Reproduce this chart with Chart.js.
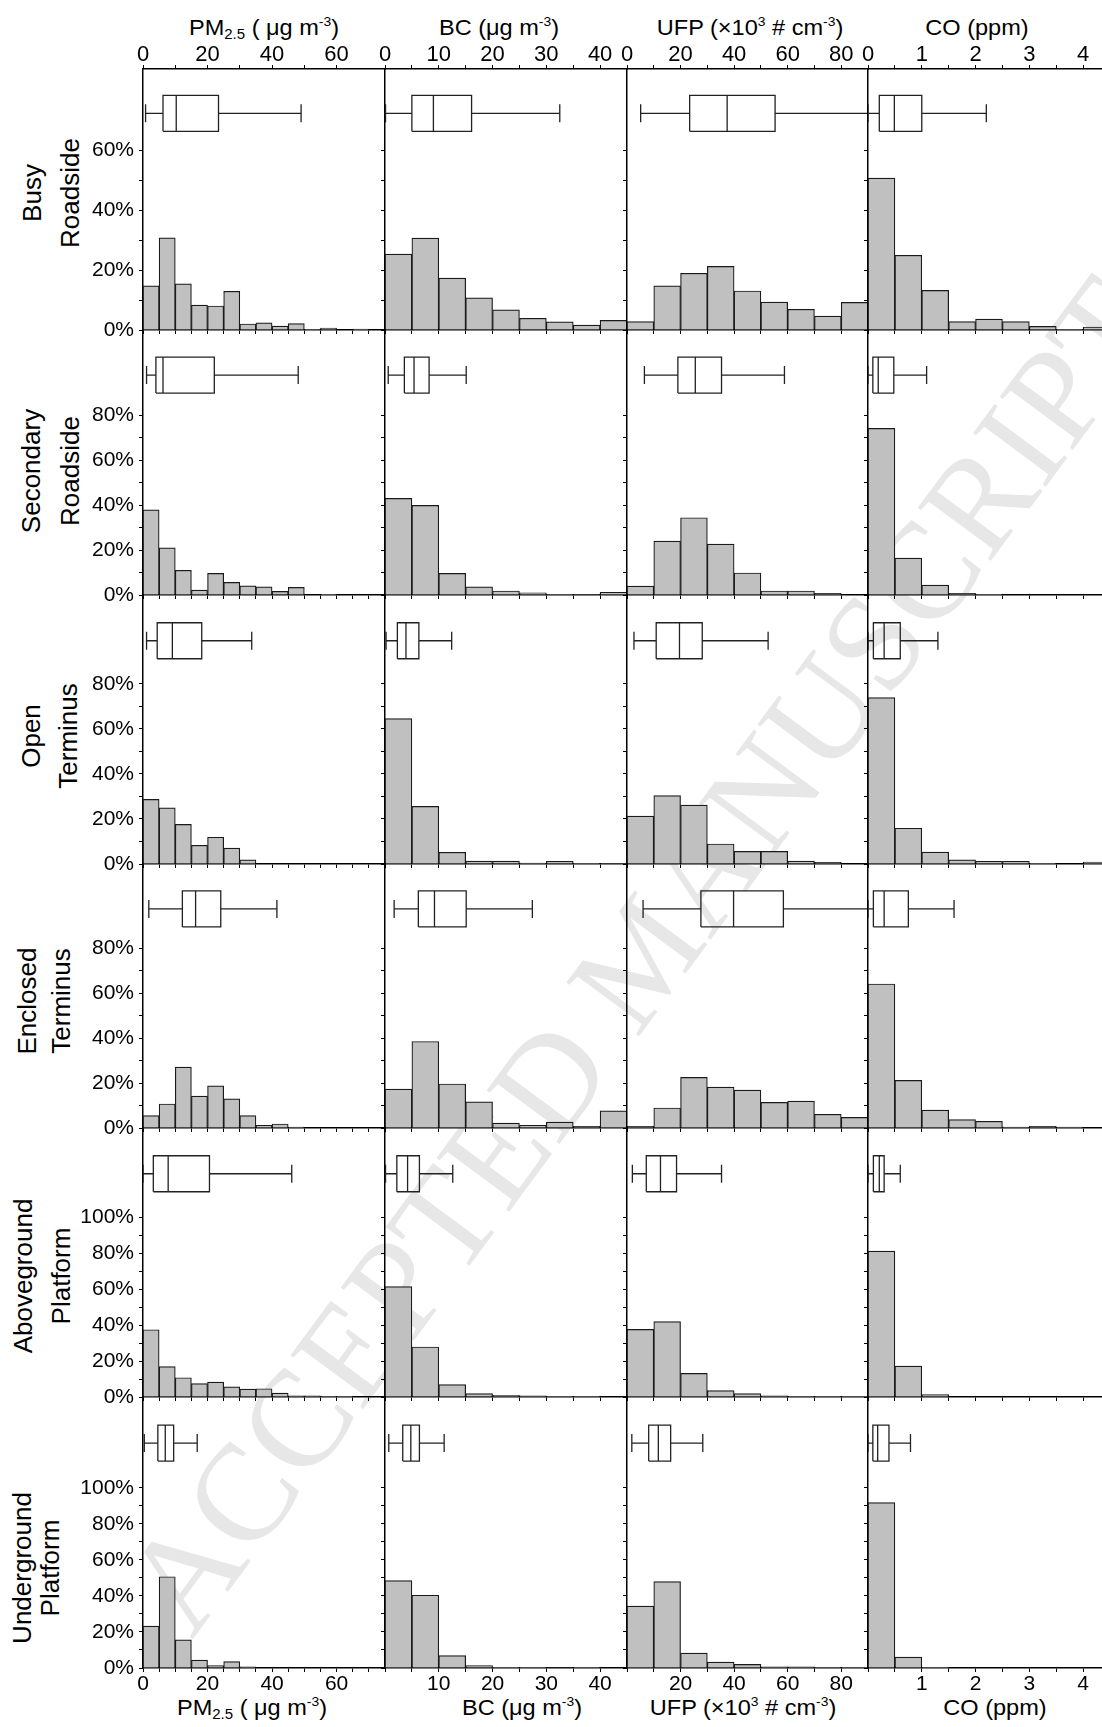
<!DOCTYPE html>
<html>
<head>
<meta charset="utf-8">
<script src="https://cdn.jsdelivr.net/npm/chart.js@4.4.1/dist/chart.umd.min.js"></script>
<style>
  html, body { margin: 0; padding: 0; background: #fff; overflow: hidden; }
  #figure { position: relative; width: 1102px; height: 1727px; overflow: hidden;
            font-family: "Liberation Sans", Arial, sans-serif; color: #000; }
  #figure canvas { position: absolute; }
  .title { position: absolute; font-size: 22px; line-height: 22px; white-space: nowrap; }
  .title sub { font-size: 14px; line-height: 0; vertical-align: -4px; }
  .title sup { font-size: 13px; line-height: 0; vertical-align: 9px; }
  .site { position: absolute; left: 0; top: 0; font-size: 26px; line-height: 26px;
          white-space: nowrap; transform-origin: 0 0; }
  .watermark { position: absolute; left: 0; top: 0; font-family: "Liberation Serif", serif;
               font-size: 138px; line-height: 138px; color: #e7e7e7; white-space: nowrap;
               transform-origin: 0 0; }
</style>
</head>
<body>
<div id="figure">
  <div class="watermark" id="wm">ACCEPTED MANUSCRIPT</div>
</div>
<script>
// sites (rows) and pollutants (columns)
const siteLines = [["Busy", "Roadside"], ["Secondary", "Roadside"], ["Open", "Terminus"],
                   ["Enclosed", "Terminus"], ["Aboveground", "Platform"], ["Underground", "Platform"]];
const topTitles = ["PM<sub>2.5</sub> ( μg m<sup>-3</sup>)", "BC (μg m<sup>-3</sup>)",
                   "UFP (×10<sup>3</sup> # cm<sup>-3</sup>)", "CO (ppm)"];

// histogram bins and axes per pollutant
const binWidth = [5, 5, 10, 0.5];
const axisMax = [75, 45, 90, 4.5];
const bottomStep = [5, 5, 10, 0.5];
const topStep = [10, 5, 10, 0.5];
const labelStep = [20, 10, 20, 1];

// y axes per site (percent)
const pctMax = [87, 118, 119.5, 117.5, 149.5, 150.5];
const pctLabelMax = [60, 80, 80, 80, 100, 100];

// frequency (%) per bin, one row per site
const pm25Pct = [
  [14.7, 30.7, 15.4, 8.3, 8.0, 12.9, 2.0, 2.4, 1.3, 2.1, 0.2, 0.6, 0, 0.3, 0],
  [37.9, 21.0, 11.0, 2.2, 9.6, 5.6, 4.1, 3.6, 1.6, 3.4, 0, 0.3, 0, 0, 0],
  [28.7, 24.9, 17.6, 8.3, 11.9, 7.1, 1.8, 0, 0, 0, 0, 0, 0, 0, 0],
  [5.5, 10.7, 27.1, 14.2, 18.8, 13.0, 5.5, 1.2, 1.8, 0.4, 0, 0, 0, 0, 0],
  [37.4, 16.9, 10.7, 7.4, 8.3, 5.6, 4.4, 4.6, 2.2, 0.6, 0.6, 0.2, 0.2, 0, 0],
  [23.3, 50.7, 15.6, 4.4, 1.3, 3.5, 0.7, 0, 0, 0, 0, 0, 0, 0, 0]
];
const bcPct = [
  [25.3, 30.6, 17.3, 10.7, 6.7, 3.9, 2.7, 1.6, 3.2],
  [43.0, 39.9, 9.6, 3.6, 1.8, 1.0, 0.3, 0.2, 1.2],
  [64.6, 25.6, 5.2, 1.3, 1.3, 0.4, 1.2, 0.3, 0.2],
  [17.3, 38.5, 19.6, 11.6, 2.2, 1.2, 2.6, 0.7, 7.6],
  [61.3, 27.8, 6.9, 1.9, 0.9, 0.6, 0.4, 0.1, 0],
  [48.5, 40.4, 6.9, 1.3, 0.4, 0.1, 0.3, 0.2, 0]
];
const ufpPct = [
  [2.8, 14.7, 18.9, 21.2, 13.0, 9.3, 6.9, 4.6, 9.2],
  [4.0, 24.0, 34.4, 22.7, 9.8, 1.8, 1.8, 0.7, 0],
  [21.3, 30.4, 26.2, 8.9, 5.6, 5.6, 1.3, 0.7, 0],
  [0.7, 8.9, 22.5, 18.2, 16.9, 11.4, 12.0, 6.1, 4.7],
  [37.6, 41.9, 13.1, 3.5, 1.9, 0.7, 0.4, 0.2, 0.2],
  [34.4, 48.0, 8.3, 3.3, 2.0, 0.6, 0.6, 0.2, 0.2]
];
const coPct = [
  [50.6, 24.9, 13.2, 2.8, 3.6, 2.8, 1.2, 0.2, 1.0],
  [74.2, 16.4, 4.4, 0.7, 0.3, 0, 0, 0, 0],
  [73.9, 15.9, 5.3, 1.8, 1.2, 1.2, 0.3, 0, 0.9],
  [64.1, 21.2, 8.0, 3.7, 3.0, 0.4, 0.7, 0.4, 0],
  [81.1, 17.2, 1.3, 0, 0, 0, 0, 0, 0],
  [91.9, 6.1, 0.2, 0, 0, 0, 0, 0, 0]
];

// box plots: [min, q1, median, q3, max]
const pm25Box = [[0.8, 6.2, 10.3, 23.4, 49], [1.1, 4.0, 6.2, 22.1, 48.1], [1.1, 4.4, 9.1, 18.2, 33.7],
                 [1.8, 12.2, 16.3, 24.1, 41.5], [0.0, 3.2, 7.8, 20.6, 46.1], [0.4, 4.6, 6.9, 9.5, 16.8]];
const bcBox = [[0.1, 5.0, 9.0, 16.1, 32.5], [0.6, 3.6, 5.4, 8.2, 15.1], [0.2, 2.3, 3.9, 6.3, 12.4],
               [1.7, 6.2, 9.2, 15.1, 27.4], [0.1, 2.2, 4.2, 6.4, 12.6], [0.7, 3.3, 4.8, 6.4, 11.0]];
const ufpBox = [[5.1, 23.4, 37.4, 55.3, 95], [6.5, 19.0, 25.5, 35.3, 58.8], [2.6, 10.9, 19.6, 28.1, 52.7],
                [6.0, 27.6, 39.8, 58.4, 95], [2.0, 7.2, 12.5, 18.5, 35.3], [1.8, 8.1, 11.7, 16.3, 28.3]];
const coBox = [[0.0, 0.21, 0.49, 1.0, 2.2], [0.0, 0.09, 0.19, 0.48, 1.09], [0.0, 0.10, 0.30, 0.60, 1.30],
               [0.0, 0.10, 0.30, 0.75, 1.60], [0.0, 0.10, 0.21, 0.30, 0.60], [0.0, 0.09, 0.18, 0.39, 0.79]];

const allPct = [pm25Pct, bcPct, ufpPct, coPct];
const allBox = [pm25Box, bcBox, ufpBox, coBox];

// page layout (pixels)
const colEdges = [143, 385, 627, 868, 1110];
const rowEdges = [69, 330, 595, 864, 1128, 1397, 1668];
const topTitleX = [264, 499, 750, 977];
const bottomTitleX = [252, 522, 743, 995];
const siteCenterY = [193, 471, 736, 1001, 1276, 1568];
const siteBaseX = [[41, 79], [40, 79], [40, 77], [36, 70], [32, 70], [30.5, 59]];

const fig = document.getElementById("figure");
const FONT = "'Liberation Sans', Arial, sans-serif";

const wm = document.getElementById("wm");
wm.style.transform = "translate(642px, 955px) rotate(-53.5deg) translate(-50%, -50%)";

function addTitle(html, cx, baseline) {
    const d = document.createElement("div");
    d.className = "title";
    d.innerHTML = html;
    d.style.left = cx + "px";
    d.style.top = (baseline - 18.6) + "px";
    d.style.transform = "translateX(-50%) scaleX(1.07)";
    fig.appendChild(d);
}
topTitles.forEach((t, c) => {
    addTitle(t, topTitleX[c], 36);
    addTitle(t, bottomTitleX[c], 1716);
});

siteLines.forEach((lines, r) => {
    lines.forEach((txt, k) => {
        const d = document.createElement("div");
        d.className = "site";
        d.textContent = txt;
        d.style.transform = "translate(" + siteBaseX[r][k] + "px," + siteCenterY[r] + "px) rotate(-90deg) translate(-50%, -22px)";
        fig.appendChild(d);
    });
});

function isMajor(val, step) {
    const q = val / step;
    return Math.abs(q - Math.round(q)) < 1e-6;
}

function boxPoints(s, yc, hb, hc) {
    const [mn, q1, md, q3, mx] = s;
    const gap = x => ({ x: x, y: null });
    return [
        { x: q1, y: yc - hb }, { x: q3, y: yc - hb }, { x: q3, y: yc + hb }, { x: q1, y: yc + hb }, { x: q1, y: yc - hb }, gap(q1),
        { x: md, y: yc - hb }, { x: md, y: yc + hb }, gap(md),
        { x: mn, y: yc }, { x: q1, y: yc }, gap(q1),
        { x: q3, y: yc }, { x: mx, y: yc }, gap(mx),
        { x: mn, y: yc - hc }, { x: mn, y: yc + hc }, gap(mn),
        { x: mx, y: yc - hc }, { x: mx, y: yc + hc }
    ];
}

for (let r = 0; r < 6; r++) {
    for (let c = 0; c < 4; c++) {
        const L = colEdges[c], R = colEdges[c + 1], T = rowEdges[r], B = rowEdges[r + 1];
        // room around the plot area, taken by the axes themselves
        const leftW = c === 0 ? 110 : 24;
        const bottomH = r === 5 ? 48 : 24;
        const topH = r === 0 ? 48 : 24;
        const rightW = 24;
        const cv = document.createElement("canvas");
        cv.width = R - L + leftW + rightW;
        cv.height = B - T + topH + bottomH;
        cv.style.left = (L - leftW) + "px";
        cv.style.top = (T - topH) + "px";
        cv.style.width = cv.width + "px";
        cv.style.height = cv.height + "px";
        fig.appendChild(cv);

        const pxPerPct = (B - T) / pctMax[r];
        const yc = 0.83 * pctMax[r];
        const hist = allPct[c][r].map((p, i) => ({ x: (i + 0.5) * binWidth[c], y: p }));

        const axisCommon = {
            type: "linear",
            min: 0,
            max: axisMax[c],
            offset: false,
            border: { display: true, color: "#000", width: 1.5 },
            grid: { display: true, drawOnChartArea: false, drawTicks: true, tickLength: 4, color: "#000", lineWidth: 1, offset: false },
            z: 1
        };

        new Chart(cv, {
            type: "bar",
            data: {
                datasets: [{
                    type: "bar",
                    data: hist,
                    backgroundColor: "#c0c0c0",
                    borderColor: "#1a1a1a",
                    borderWidth: 1.2,
                    barPercentage: 1,
                    categoryPercentage: 1
                }, {
                    type: "line",
                    data: boxPoints(allBox[c][r], yc, 18 / pxPerPct, 9 / pxPerPct),
                    borderColor: "#222",
                    borderWidth: 1.3,
                    pointRadius: 0,
                    fill: false,
                    tension: 0,
                    spanGaps: false
                }]
            },
            options: {
                responsive: false,
                animation: false,
                events: [],
                layout: { padding: { left: 0, right: rightW, top: r === 0 ? 0 : topH, bottom: 0 } },
                plugins: { legend: { display: false }, tooltip: { enabled: false } },
                scales: {
                    x: Object.assign({}, axisCommon, {
                        position: "bottom",
                        ticks: {
                            display: r === 5,
                            stepSize: bottomStep[c],
                            autoSkip: false,
                            maxRotation: 0,
                            padding: 0,
                            color: "#000",
                            font: { family: FONT, size: 21 },
                            callback: v => (isMajor(v, labelStep[c]) && !(v === 0 && c > 0)) ? String(v) : ""
                        },
                        afterFit: s => { s.height = bottomH; }
                    }),
                    xTop: Object.assign({}, axisCommon, {
                        display: r === 0,
                        position: "top",
                        ticks: {
                            stepSize: topStep[c],
                            autoSkip: false,
                            maxRotation: 0,
                            padding: -3,
                            color: "#000",
                            font: { family: FONT, size: 22 },
                            callback: v => isMajor(v, labelStep[c]) ? String(v) : ""
                        },
                        afterFit: s => { s.height = r === 0 ? topH : 0; }
                    }),
                    y: {
                        type: "linear",
                        min: 0,
                        max: pctMax[r],
                        border: { display: true, color: "#000", width: 1.5 },
                        grid: { display: true, drawOnChartArea: false, drawTicks: true, tickLength: 4, color: "#000", lineWidth: 1 },
                        z: 1,
                        ticks: {
                            display: c === 0,
                            stepSize: 10,
                            autoSkip: false,
                            padding: 5,
                            color: "#000",
                            font: { family: FONT, size: 21 },
                            callback: v => isMajor(v, 20) ? v + "%" : ""
                        },
                        afterBuildTicks: s => { s.ticks = s.ticks.filter(t => t.value <= pctLabelMax[r] + 1e-6); },
                        afterFit: s => { s.width = leftW; }
                    }
                }
            }
        });
    }
}
</script>
</body>
</html>
